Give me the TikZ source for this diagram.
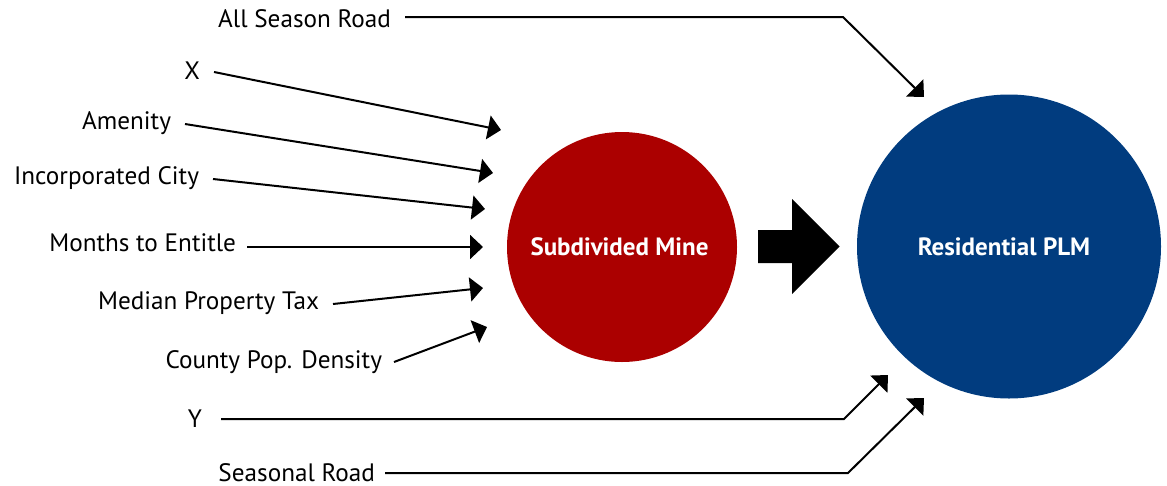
\documentclass[tikz,border=0pt]{standalone}
\usepackage{fontspec}
\setmainfont{PT Sans}
\usetikzlibrary{arrows.meta}
\definecolor{minered}{RGB}{171,0,0}
\definecolor{plmblue}{RGB}{1,60,127}
\begin{document}
\begin{tikzpicture}[x=1pt,y=-1pt,
  lbl/.style={anchor=east, font=\fontsize{25.2}{30}\selectfont, inner sep=0pt,
    outer xsep=14pt, text height=10pt, text depth=0pt},
  conn/.style={line width=2pt, -{Triangle[length=13pt,width=24pt]}},
  circ/.style={circle, inner sep=0pt, draw=none},
  circtext/.style={text=white, font=\bfseries\fontsize{25}{30}\selectfont, inner sep=0pt}
]
\useasboundingbox (0,0) rectangle (1167,485);

% circles
\node[circ, fill=minered, minimum size=230pt] (mine) at (622,247) {};
\node[circtext] (minetxt) at ([xshift=-2.5pt]mine.center) {Subdivided Mine};
\node[circ, fill=plmblue, minimum size=304pt] (plm) at (1009,246.5) {};
\node[circtext] (plmtxt) at ([xshift=-5pt]plm.center) {Residential PLM};

% big arrow between circles
\fill[black] (758,230) -- (792,230) -- (792,199) -- (839.5,246.5) -- (792,294)
  -- (792,263) -- (758,263) -- cycle;

% labels
\node[lbl, text height=14pt] (x) at (214,72) {X};
\node[lbl] (amen) at (185,124) {Amenity};
\node[lbl] (city) at (213,179) {Incorporated City};
\node[lbl, outer xsep=11pt, text height=8pt] (month) at (247,247) {Months to Entitle};
\node[lbl] (tax) at (333,304) {Median Property Tax};
\node[lbl, outer xsep=12pt, text height=12pt] (dens) at (394,362) {County Pop. Density};
\node[lbl, text height=20pt] (allr) at (405,17) {All Season Road};
\node[lbl, outer xsep=19pt, text height=16pt] (y) at (221,419) {Y};
\node[lbl, outer xsep=10pt, text height=16pt] (seas) at (385,473) {Seasonal Road};

% arrow tips and corners
\coordinate (tx) at (501,130);
\coordinate (tamen) at (493,173);
\coordinate (tcity) at (485,209);
\coordinate (tmonth) at (483,247);
\coordinate (ttax) at (483,288);
\coordinate (tdens) at (487,327);
\coordinate (kallr) at (843,17);
\coordinate (tallr) at (924,97);
\coordinate (ky) at (844,419);
\coordinate (ty) at (888,375);
\coordinate (kseas) at (848,473);
\coordinate (tseas) at (924,398);

% connectors
\draw[conn] (x.east) -- (tx);
\draw[conn] (amen.east) -- (tamen);
\draw[conn] (city.east) -- (tcity);
\draw[conn] (month.east) -- (tmonth);
\draw[conn] (tax.east) -- (ttax);
\draw[conn] (dens.east) -- (tdens);
\draw[conn] (allr.east) -- (kallr) -- (tallr);
\draw[conn] (y.east) -- (ky) -- (ty);
\draw[conn] (seas.east) -- (kseas) -- (tseas);
\end{tikzpicture}
\end{document}
